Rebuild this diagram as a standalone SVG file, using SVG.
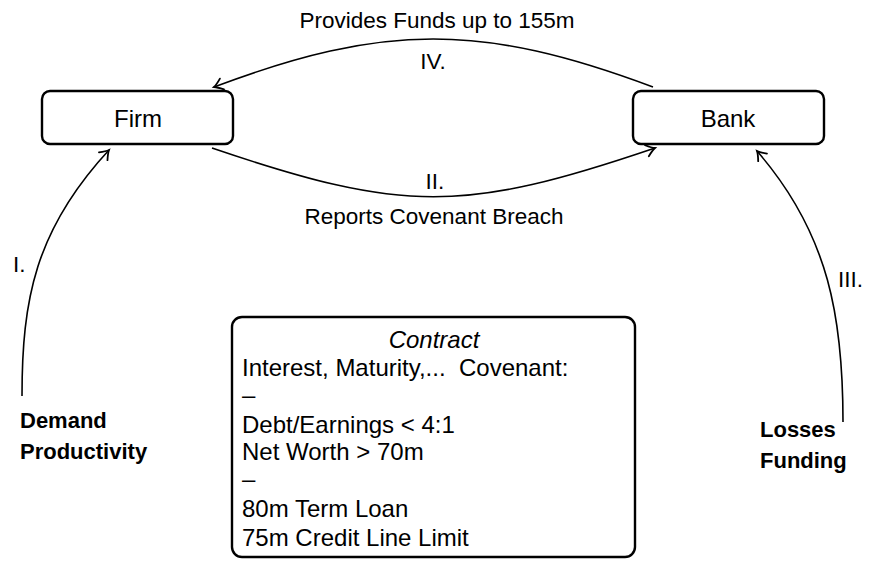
<svg xmlns="http://www.w3.org/2000/svg" width="872" height="561" viewBox="0 0 872 561">
<style>
text{font-family:"Liberation Sans",Arial,sans-serif;font-size:24px;fill:#000}
.b{font-weight:bold;font-size:22px}
.c{text-anchor:middle}
.l{font-size:22.5px}
.i{font-style:italic}
.box{fill:#fff;stroke:#000;stroke-width:2.4}
.e{fill:none;stroke:#000;stroke-width:1.6}
</style>
<defs>
<marker id="arr" markerUnits="userSpaceOnUse" markerWidth="14" markerHeight="14" viewBox="-10 -7 12 14" refX="0" refY="0" orient="auto">
<path d="M-8.5,-5.8 Q-3,-1.2 0,0 Q-3,1.2 -8.5,5.8" fill="none" stroke="#000" stroke-width="1.8" stroke-linecap="round"/>
</marker>
</defs>
<g id="connectors">
<path class="e" d="M653,87 C482,23 384,23 214,87" marker-end="url(#arr)"/>
<path class="e" d="M212,148 C403,213 464,213 655,148" marker-end="url(#arr)"/>
<path class="e" d="M22,396 C22,300 35,230 109,150" marker-end="url(#arr)"/>
<path class="e" d="M843,422 C843,320 830,235 757,151" marker-end="url(#arr)"/>
<text class="c l" x="437" y="28">Provides Funds up to 155m</text>
<text class="c l" x="433" y="69">IV.</text>
<text class="c l" x="435" y="189">II.</text>
<text class="c l" x="434" y="224">Reports Covenant Breach</text>
<text class="l" x="13" y="272">I.</text>
<text class="l" x="838" y="287">III.</text>
</g>
<g id="firm">
<rect class="box" x="42" y="91" width="191" height="53" rx="8"/>
<text class="c" x="138" y="127">Firm</text>
</g>
<g id="bank">
<rect class="box" x="633" y="91" width="191" height="53" rx="8"/>
<text class="c" x="728" y="127">Bank</text>
</g>
<g id="demand">
<text class="b" x="20" y="428">Demand</text>
<text class="b" x="20" y="459">Productivity</text>
</g>
<g id="losses">
<text class="b" x="760" y="437">Losses</text>
<text class="b" x="760" y="468">Funding</text>
</g>
<g id="contract">
<rect class="box" x="232" y="317" width="403" height="240" rx="10"/>
<text class="c i" x="434" y="348">Contract</text>
<text x="242" y="376" xml:space="preserve">Interest, Maturity,...  Covenant:</text>
<text x="242" y="403">–</text>
<text x="242" y="433">Debt/Earnings &lt; 4:1</text>
<text x="242" y="460">Net Worth &gt; 70m</text>
<text x="242" y="487">–</text>
<text x="242" y="517">80m Term Loan</text>
<text x="242" y="546">75m Credit Line Limit</text>
</g>
</svg>
